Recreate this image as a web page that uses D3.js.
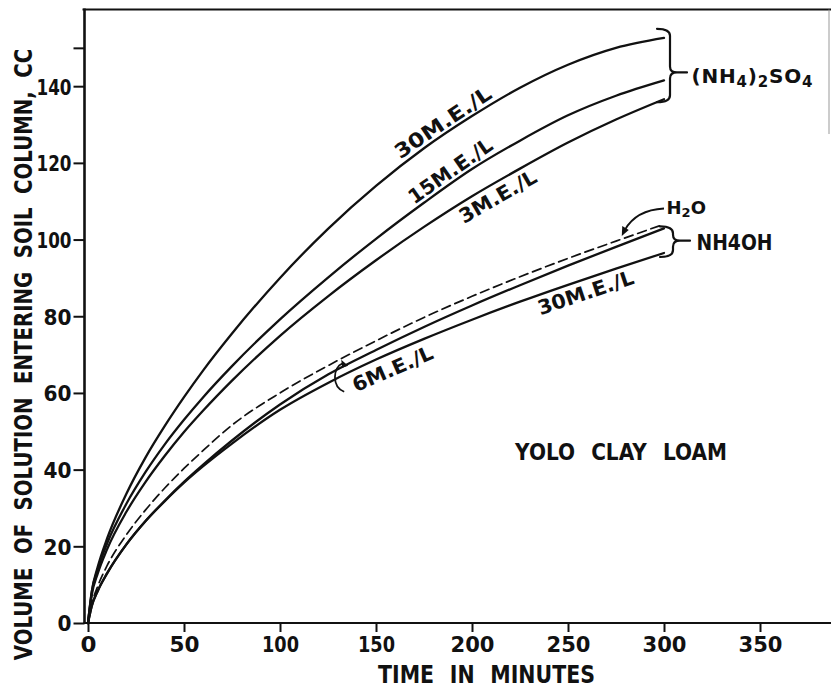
<!DOCTYPE html>
<html>
<head>
<meta charset="utf-8">
<script src="https://cdn.jsdelivr.net/npm/d3@7"></script>
<style>
  html, body { margin: 0; padding: 0; background: #fff; }
  svg { display: block; }
  text { font-family: "DejaVu Sans", "Liberation Sans", sans-serif; fill: #111; }
</style>
</head>
<body>
<svg id="chart" width="831" height="688"></svg>
<script>
// Elapsed time (minutes) at which each curve is sampled
const times = [0, 2, 5, 10, 20, 30, 40, 50, 60, 75, 100, 125, 150, 175, 200, 225, 250, 275, 300];

// Cumulative volume (cc) entering the soil column
const sulfate30 = [0, 8.3, 14.5, 22.1, 33.7, 43.2, 51.4, 58.9, 65.9, 75.5, 90.0, 102.8, 114.0, 123.8, 132.2, 139.6, 145.6, 150.0, 152.6];
const sulfate15 = [0, 8.2, 13.9, 20.8, 31.1, 39.4, 46.6, 53.0, 58.9, 67.0, 79.2, 90.1, 100.2, 109.6, 118.4, 125.8, 132.4, 137.5, 141.5];
const sulfate3  = [0, 7.45, 12.8, 19.3, 29.0, 36.8, 43.6, 49.8, 55.4, 63.2, 74.9, 85.2, 94.6, 103.3, 111.3, 118.5, 125.3, 131.3, 136.6];
const water     = [0, 5, 9.5, 15, 23, 29.5, 35.2, 40.3, 45, 51.6, 60, 67.1, 73.6, 79.7, 85.2, 90.3, 95.1, 99.6, 104];
const nh4oh6    = [0, 4.5, 8.3, 13, 20.5, 26.6, 31.9, 36.8, 41.3, 47.6, 57.0, 64.8, 71.2, 77.2, 82.8, 88.1, 93.2, 98.1, 102.9];
const nh4oh30   = [0, 4.5, 8.3, 13, 20.5, 26.6, 31.8, 36.6, 40.9, 46.8, 55.6, 62.6, 68.7, 74.1, 79.1, 83.8, 88.2, 92.4, 96.5];

// Axis ticks
const xTicks = [0, 50, 100, 150, 200, 250, 300, 350];
const yTicks = [0, 20, 40, 60, 80, 100, 120, 140, 150];
const yTickLabels = ["0", "20", "40", "60", "80", "100", "120", "140", ""];

const ink = "#111";
const svg = d3.select("#chart");

const x = d3.scaleLinear().domain([0, 350]).range([88, 760]);
const y = d3.scaleLinear().domain([0, 160]).range([623, 9.5]);

const frameLeft = 84.5, frameRight = 830, frameTop = y(160), frameBottom = y(0);

// narrow lettering-guide numerals: "1" is a plain stroke
const numWidth = s => String(s).split("").reduce((w, c) => w + (c === "1" ? 7 : 14), 0);

// Lettering drawn at a natural size, then stretched to the given run length and cap height
function lettering(cx, cy, rot, str, fontSize, runLength, capHeight, wordSpacing) {
  const g = svg.append("g");
  const t = g.append("text")
    .attr("text-anchor", "middle").attr("font-size", fontSize).attr("font-weight", "bold")
    .attr("word-spacing", wordSpacing)
    .text(str);
  const natural = t.node().getComputedTextLength();
  const sx = runLength / natural, sy = capHeight / (0.729 * fontSize);
  g.attr("transform", `translate(${cx},${cy}) rotate(${rot}) scale(${sx},${sy})`);
  return t;
}

// ---- frame ----
svg.append("line").attr("x1", frameLeft - 2).attr("x2", 831).attr("y1", frameTop).attr("y2", frameTop)
  .attr("stroke", ink).attr("stroke-width", 2);
svg.append("line").attr("x1", frameLeft).attr("x2", frameLeft).attr("y1", frameTop - 1).attr("y2", frameBottom + 1)
  .attr("stroke", ink).attr("stroke-width", 2.6);
svg.append("line").attr("x1", frameLeft - 1).attr("x2", 831).attr("y1", frameBottom).attr("y2", frameBottom)
  .attr("stroke", ink).attr("stroke-width", 2.2);
svg.append("line").attr("x1", frameRight - 1).attr("x2", frameRight - 1).attr("y1", frameTop).attr("y2", 134)
  .attr("stroke", "#999").attr("stroke-width", 1);

// ---- axes ----
const yAxis = d3.axisLeft(y).tickValues(yTicks)
  .tickFormat((d, i) => yTickLabels[i]).tickSize(11).tickPadding(2);
const gy = svg.append("g").attr("transform", `translate(${frameLeft},0)`).call(yAxis);
gy.select(".domain").remove();
gy.selectAll(".tick line").attr("stroke", ink).attr("stroke-width", 2);
gy.selectAll(".tick text").attr("font-size", 22).attr("font-weight", "bold")
  .attr("fill", ink).attr("dy", "0.36em")
  .each(function () {
    const s = d3.select(this).text();
    if (s) d3.select(this).attr("textLength", numWidth(s)).attr("lengthAdjust", "spacingAndGlyphs");
  });

const xAxis = d3.axisBottom(x).tickValues(xTicks).tickSize(9).tickPadding(4);
const gx = svg.append("g").attr("transform", `translate(0,${frameBottom})`).call(xAxis);
gx.select(".domain").remove();
gx.selectAll(".tick line").attr("stroke", ink).attr("stroke-width", 2);
gx.selectAll(".tick text").attr("font-size", 22).attr("font-weight", "bold").attr("fill", ink)
  .each(function (d) {
    d3.select(this).attr("textLength", numWidth(d) + 2).attr("lengthAdjust", "spacingAndGlyphs");
  });

// axis titles and soil name
lettering(32, 354.5, -90, "VOLUME OF SOLUTION ENTERING SOIL COLUMN, CC", 24, 612, 18.5, 8);
lettering(486.5, 682.5, 0, "TIME IN MINUTES", 24, 217, 17.5, 10);
lettering(621, 460, 0, "YOLO CLAY LOAM", 22, 212, 16.5, 10);

// ---- curves ----
const series = [
  { values: sulfate30, dash: null },
  { values: sulfate15, dash: null },
  { values: sulfate3,  dash: null },
  { values: water,     dash: "9,5" },
  { values: nh4oh6,    dash: null },
  { values: nh4oh30,   dash: null }
];

const line = d3.line()
  .x((d, i) => x(times[i]))
  .y(d => y(d))
  .curve(d3.curveMonotoneX);

svg.append("g").selectAll("path").data(series).join("path")
  .attr("d", d => line(d.values))
  .attr("fill", "none")
  .attr("stroke", ink)
  .attr("stroke-width", d => d.dash ? 1.7 : 2.3)
  .attr("stroke-dasharray", d => d.dash)
  .attr("stroke-linecap", "round");

// ---- curve labels, laid along each curve ----
function along(values) { return d3.scaleLinear().domain(times).range(values); }

function curveLabel(values, t, offset, label, len) {
  const f = along(values);
  const dx = x(t + 6) - x(t - 6), dy = y(f(t + 6)) - y(f(t - 6));
  const ang = Math.atan2(dy, dx) * 180 / Math.PI;
  svg.append("g")
    .attr("transform", `translate(${x(t)},${y(f(t))}) rotate(${ang})`)
    .append("text")
    .attr("x", 0).attr("y", offset)
    .attr("text-anchor", "middle").attr("font-size", 20).attr("font-weight", "bold")
    .attr("textLength", len).attr("lengthAdjust", "spacingAndGlyphs")
    .text(label);
}

curveLabel(sulfate30, 188, -4, "30M.E./L", 112);
curveLabel(sulfate15, 192, -4, "15M.E./L", 98);
curveLabel(sulfate3, 210, 20, "3M.E./L", 86);
curveLabel(nh4oh30, 257, 20, "30M.E./L", 100);
curveLabel(nh4oh30, 155.5, 22, "6M.E./L", 86);

// ---- braces grouping the curve families ----
function brace(x0, yTop, yBot, yTip) {
  const w = 13, tip = 7;
  const xs = x0 + w;
  const p = d3.path();
  p.moveTo(x0, yTop);
  p.quadraticCurveTo(xs, yTop, xs, yTop + 7);
  p.lineTo(xs, yTip - 6);
  p.quadraticCurveTo(xs, yTip, xs + tip, yTip);
  p.quadraticCurveTo(xs, yTip, xs, yTip + 6);
  p.lineTo(xs, yBot - 7);
  p.quadraticCurveTo(xs, yBot, x0, yBot);
  p.moveTo(xs + tip, yTip);
  p.lineTo(xs + tip + 10, yTip);
  svg.append("path").attr("d", p.toString())
    .attr("fill", "none").attr("stroke", ink).attr("stroke-width", 2.2)
    .attr("stroke-linecap", "round");
}

const tEnd = times[times.length - 1];
const last = arr => arr[arr.length - 1];
brace(x(tEnd) - 7, y(last(sulfate30)) - 9, y(last(sulfate3)) + 3, y(last(sulfate15)) - 8);
brace(x(tEnd) - 4, y(last(nh4oh6)) - 2, y(last(nh4oh30)) + 4,
      (y(last(nh4oh6)) + y(last(nh4oh30))) / 2);

// (NH4)2SO4
const sulf = svg.append("text").attr("x", 691.5).attr("y", 83)
  .attr("font-size", 20).attr("font-weight", "bold").attr("letter-spacing", 0.8);
sulf.append("tspan").text("(NH");
sulf.append("tspan").attr("font-size", 15).attr("dy", 4).text("4");
sulf.append("tspan").attr("dy", -4).text(")");
sulf.append("tspan").attr("font-size", 15).attr("dy", 4).text("2");
sulf.append("tspan").attr("dy", -4).text("SO");
sulf.append("tspan").attr("font-size", 15).attr("dy", 4).text("4");

// NH4OH
svg.append("text").attr("x", 696.5).attr("y", 250)
  .attr("font-size", 22).attr("font-weight", "bold")
  .attr("textLength", 76).attr("lengthAdjust", "spacingAndGlyphs")
  .text("NH4OH");

// H2O with leader arrow to the dashed curve
const h2o = svg.append("text").attr("x", 666.5).attr("y", 213.5)
  .attr("font-size", 18).attr("font-weight", "bold");
h2o.append("tspan").text("H");
h2o.append("tspan").attr("font-size", 13).attr("dy", 3).text("2");
h2o.append("tspan").attr("dy", -3).text("O");

const fw = along(water);
const tipW = [x(278), y(fw(278)) - 3];
svg.append("path")
  .attr("d", `M664,208.5 Q636,210 ${tipW[0] + 3},${tipW[1] - 6}`)
  .attr("fill", "none").attr("stroke", ink).attr("stroke-width", 1.8);
svg.append("path")
  .attr("d", `M${tipW[0]},${tipW[1]} L${tipW[0] + 0.5},${tipW[1] - 10} L${tipW[0] + 7},${tipW[1] - 6} Z`)
  .attr("fill", ink);

// hook arrow pointing at the 6 M.E./L curve
const f6 = along(nh4oh6);
const tip6 = [x(135), y(f6(135))];
svg.append("path")
  .attr("d", `M${tip6[0] - 3},${tip6[1] + 27} C${tip6[0] - 16},${tip6[1] + 22} ${tip6[0] - 14},${tip6[1] + 2} ${tip6[0] - 5},${tip6[1] - 1}`)
  .attr("fill", "none").attr("stroke", ink).attr("stroke-width", 1.8);
svg.append("path")
  .attr("d", `M${tip6[0] + 1},${tip6[1] + 1} L${tip6[0] - 6},${tip6[1] - 5} L${tip6[0] - 5},${tip6[1] + 3} Z`)
  .attr("fill", ink);
</script>
</body>
</html>
